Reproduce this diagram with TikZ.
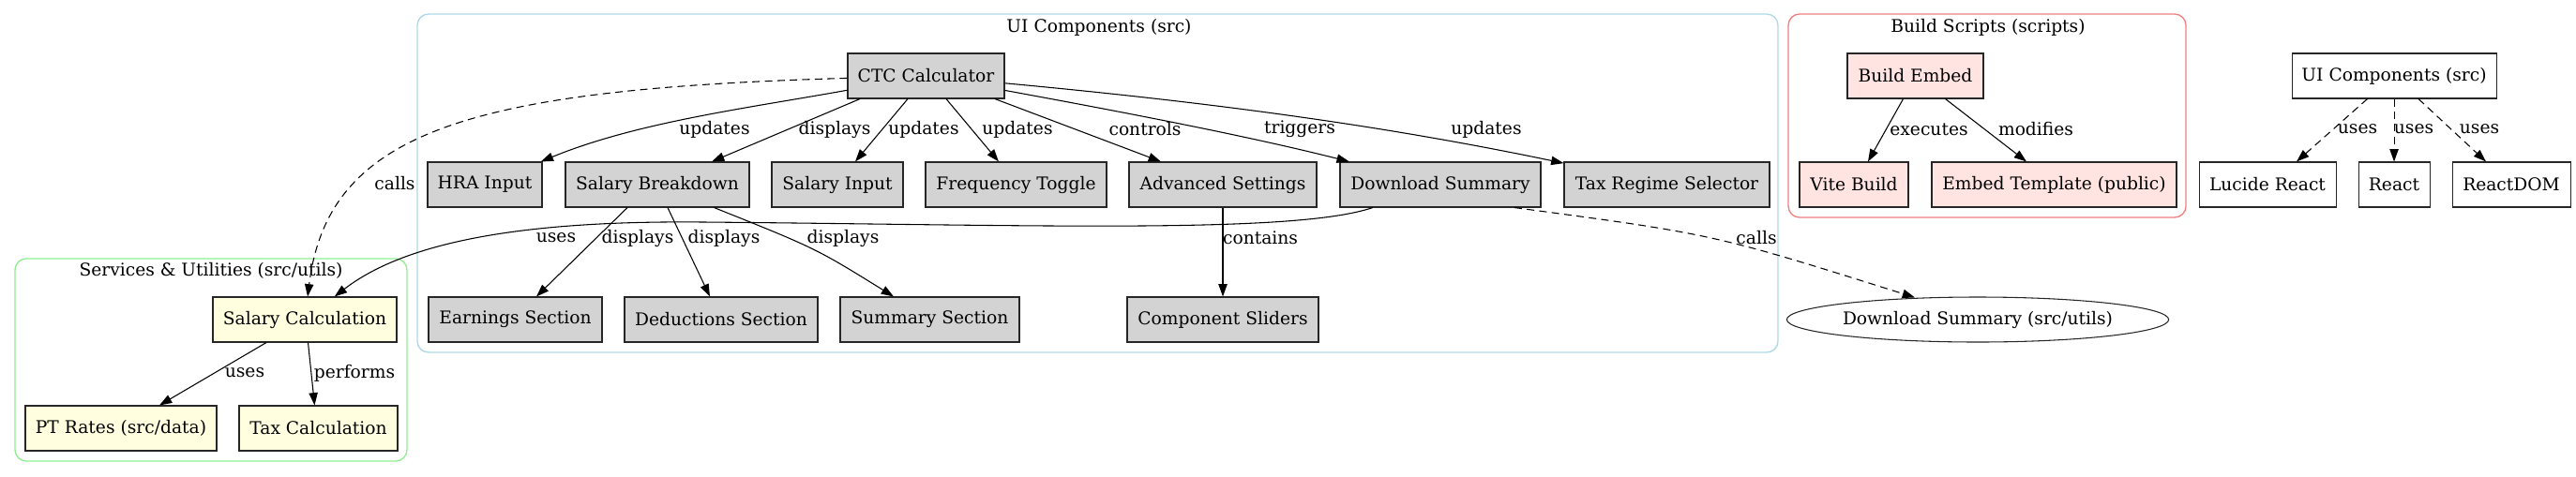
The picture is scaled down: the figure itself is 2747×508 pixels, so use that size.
\documentclass[tikz,border=0pt]{standalone}
\usepackage{fontspec}
\setmainfont{DejaVu Serif}
\usetikzlibrary{arrows.meta,calc,shapes.geometric}
\definecolor{clgray}{HTML}{D3D3D3}
\definecolor{clyellow}{HTML}{FFFFE0}
\definecolor{clrose}{HTML}{FFE4E1}
\definecolor{clblue}{HTML}{ADD8E6}
\definecolor{clgreen}{HTML}{90EE90}
\definecolor{clcoral}{HTML}{F08080}
\begin{document}
\begin{tikzpicture}[x=0.75pt,y=-0.75pt,
  every node/.style={font=\fontsize{14}{16}\selectfont},
  box/.style={draw=black!85,line width=0.8pt,rectangle,inner sep=0pt,minimum height=36pt,minimum width=#1*0.75pt},
  graybox/.style={box=#1,fill=clgray},
  yelbox/.style={box=#1,fill=clyellow},
  rosebox/.style={box=#1,fill=clrose},
  whitebox/.style={box=#1,fill=white},
  cluster/.style={rectangle,rounded corners=9pt,line width=1pt,inner sep=0pt},
  elabel/.style={inner sep=0pt},
  edge/.style={draw=black,line width=0.8pt,-{Triangle[length=10pt,width=7pt]}},
  dedge/.style={edge,dash pattern=on 6pt off 4pt}]
\useasboundingbox (0,0) rectangle (2747,508);
% clusters
\node[cluster,draw=clblue,minimum width=1451*0.75pt,minimum height=361*0.75pt] (uiclu) at (1170.5,195.5) {};
\node[cluster,draw=clgreen,minimum width=418*0.75pt,minimum height=216*0.75pt] (svclu) at (225,384) {};
\node[cluster,draw=clcoral,minimum width=424*0.75pt,minimum height=217*0.75pt] (bdclu) at (2119,123.5) {};
\node (uititle) at (1172,29) {UI Components (src)};
\node (svtitle) at (225,289) {Services \& Utilities (src/utils)};
\node (bdtitle) at (2120,29) {Build Scripts (scripts)};
% UI nodes
\node[graybox=167] (ctc) at (987.5,81) {CTC Calculator};
\node[graybox=122] (hra) at (517,197) {HRA Input};
\node[graybox=196] (sbd) at (701,197) {Salary Breakdown};
\node[graybox=140] (sin) at (893,197) {Salary Input};
\node[graybox=193] (freq) at (1083.5,197) {Frequency Toggle};
\node[graybox=200] (adv) at (1304,197) {Advanced Settings};
\node[graybox=214] (dls) at (1536,197) {Download Summary};
\node[graybox=219] (trs) at (1777.5,197) {Tax Regime Selector};
\node[graybox=185] (earn) at (549.5,341) {Earnings Section};
\node[graybox=206] (ded) at (769,341) {Deductions Section};
\node[graybox=191] (sum) at (991.5,341) {Summary Section};
\node[graybox=204] (sld) at (1304,341) {Component Sliders};
% services
\node[yelbox=196] (salc) at (325,341) {Salary Calculation};
\node[yelbox=204] (ptr) at (129,457) {PT Rates (src/data)};
\node[yelbox=169] (taxc) at (339.5,457) {Tax Calculation};
% build
\node[rosebox=145] (bemb) at (2042.5,81) {Build Embed};
\node[rosebox=116] (vite) at (1977,197) {Vite Build};
\node[rosebox=261] (etpl) at (2190.5,197) {Embed Template (public)};
% externals
\node[whitebox=218] (uic) at (2553,81) {UI Components (src)};
\node[whitebox=146] (luc) at (2418,197) {Lucide React};
\node[whitebox=76] (rct) at (2553,197) {React};
\node[whitebox=126] (rdom) at (2678,197) {ReactDOM};
\node[ellipse,draw=black!85,line width=0.8pt,inner sep=0pt,minimum width=404*0.75pt,minimum height=36pt] (ell) at (2109,341) {Download Summary (src/utils)};
% edges from CTC
\draw[edge] (ctc) .. controls (800,115) and (680,130) .. (hra);
\draw[edge] ($(ctc.south)+(-70.5,0)$) -- ($(sbd.north)+(58,0)$);
\draw[edge] ($(ctc.south)+(-19.5,0)$) -- ($(sin.north)+(19,0)$);
\draw[edge] ($(ctc.south)+(21.5,0)$) -- ($(freq.north)+(-18.5,0)$);
\draw[edge] ($(ctc.south)+(73.5,0)$) -- ($(adv.north)+(-66,0)$);
\draw[edge] (ctc) .. controls (1200,120) and (1330,145) .. (dls);
\draw[edge] (ctc) .. controls (1300,110) and (1480,135) .. (trs);
\draw[dedge] (ctc) .. controls (500,95) and (350,140) .. (salc);
% from salary breakdown
\draw[edge] ($(sbd.south)+(-32,0)$) -- ($(earn.north)+(22.5,0)$);
\draw[edge] ($(sbd.south)+(11,0)$) -- ($(ded.north)+(-12,0)$);
\draw[edge] ($(sbd.south)+(60.5,0)$) .. controls (870,265) .. ($(sum.north)+(-38.5,0)$);
\draw[edge] (adv) -- (sld);
\draw[edge] (dls) .. controls (1380,250) and (1100,240) .. (750,237) .. controls (550,235) and (430,260) .. (salc);
\draw[dedge] ($(dls.south)+(79,0)$) .. controls (1828,250) .. ($(ell.north)+(-67,1)$);
% services
\draw[edge] ($(salc.south)+(-41,0)$) -- ($(ptr.north)+(41,0)$);
\draw[edge] ($(salc.south)+(3.5,0)$) -- ($(taxc.north)+(-4,0)$);
% build
\draw[edge] ($(bemb.south)+(-13,0)$) -- ($(vite.north)+(15,0)$);
\draw[edge] ($(bemb.south)+(32,0)$) -- ($(etpl.north)+(-29.5,0)$);
% externals
\draw[dedge] ($(uic.south)+(-28.5,0)$) -- ($(luc.north)+(31,0)$);
\draw[dedge] (uic) -- (rct);
\draw[dedge] ($(uic.south)+(26,0)$) -- ($(rdom.north)+(-27,0)$);
% labels
\node[elabel] (l1) at (762,138) {updates};
\node[elabel] (l2) at (890,138) {displays};
\node[elabel] (l3) at (985,138) {updates};
\node[elabel] (l4) at (1085,138) {updates};
\node[elabel] (l5) at (1221,138) {controls};
\node[elabel] (l6) at (1386,138) {triggers};
\node[elabel] (l7) at (1585,138) {updates};
\node[elabel] (l8) at (421,196) {calls};
\node[elabel] (l9) at (593,254) {uses};
\node[elabel] (l10) at (680,254) {displays};
\node[elabel] (l11) at (772,254) {displays};
\node[elabel] (l12) at (899,254) {displays};
\node[elabel] (l13) at (1344,254) {contains};
\node[elabel] (l14) at (1873,254) {calls};
\node[elabel] (l15) at (261,398) {uses};
\node[elabel] (l16) at (378,398) {performs};
\node[elabel] (l17) at (2057,138) {executes};
\node[elabel] (l18) at (2171,138) {modifies};
\node[elabel] (l19) at (2514,138) {uses};
\node[elabel] (l20) at (2574,138) {uses};
\node[elabel] (l21) at (2644,138) {uses};
\end{tikzpicture}
\end{document}
